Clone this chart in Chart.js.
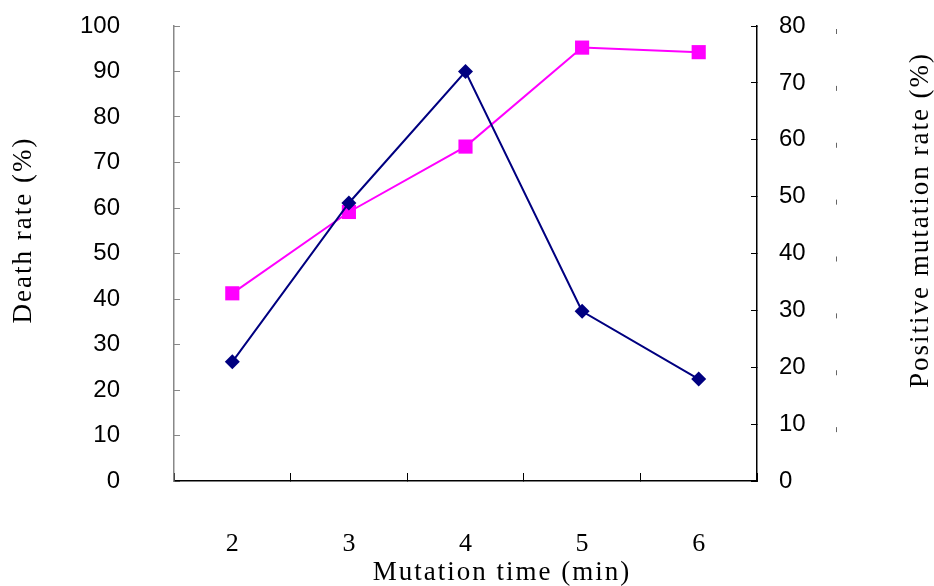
<!DOCTYPE html>
<html>
<head>
<meta charset="utf-8">
<script src="https://cdn.jsdelivr.net/npm/chart.js@4.4.1/dist/chart.umd.min.js"></script>
<style>
  body { margin: 0; background: #fff; }
  #wrap { width: 934px; height: 586px; }
</style>
</head>
<body>
<div id="wrap"><canvas id="myChart" width="934" height="586"></canvas></div>
<script>
// data
const times = ['2', '3', '4', '5', '6'];
const deathRate = [26.2, 61.1, 90, 37.3, 22.4];        // left axis
const positiveRate = [33.0, 47.3, 58.8, 76.2, 75.4];   // right axis
const leftTicks = [0, 10, 20, 30, 40, 50, 60, 70, 80, 90, 100];
const rightTicks = [0, 10, 20, 30, 40, 50, 60, 70, 80];

const serif = '"Liberation Serif", "Times New Roman", serif';
const sans = '"Liberation Sans", Arial, sans-serif';

// axis titles, drawn by hand so they can sit where the original has them
const titles = {
  id: 'titles',
  afterDraw(chart) {
    const ctx = chart.ctx;
    ctx.save();
    ctx.fillStyle = '#000';
    ctx.font = '27px ' + serif;
    ctx.textAlign = 'center';
    ctx.textBaseline = 'middle';
    ctx.letterSpacing = '2px';

    ctx.fillText('Mutation time (min)', 502, 573);

    ctx.save();
    ctx.translate(24, 230);
    ctx.rotate(-Math.PI / 2);
    ctx.fillText('Death rate (%)', 0, 0);
    ctx.restore();

    ctx.save();
    ctx.translate(921, 220);
    ctx.rotate(-Math.PI / 2);
    ctx.fillText('Positive mutation rate (%)', 0, 0);
    ctx.restore();

    // the little stray marks to the right of the right axis labels
    const y1 = chart.scales.y1;
    ctx.strokeStyle = '#666';
    ctx.lineWidth = 1;
    rightTicks.forEach(v => {
      if (v === 0) return;
      const py = y1.getPixelForValue(v);
      ctx.beginPath();
      ctx.moveTo(836.5, py + 3);
      ctx.lineTo(836.5, py + 8);
      ctx.stroke();
    });
    ctx.restore();
  }
};

function fixY(w) {
  return s => { s.width = w; s.paddingTop = 0; s.paddingBottom = 0; };
}

new Chart(document.getElementById('myChart'), {
  type: 'line',
  data: {
    labels: times,
    datasets: [{
      label: 'Death rate',
      data: deathRate,
      yAxisID: 'y',
      borderColor: '#000080',
      backgroundColor: '#000080',
      borderWidth: 2,
      pointStyle: 'rectRot',
      pointRadius: 7.5,
      pointBorderWidth: 0,
      tension: 0
    }, {
      label: 'Positive mutation rate',
      data: positiveRate,
      yAxisID: 'y1',
      borderColor: '#ff00ff',
      backgroundColor: '#ff00ff',
      borderWidth: 2,
      pointStyle: 'rect',
      pointRadius: 10,
      pointBorderWidth: 0,
      tension: 0
    }]
  },
  options: {
    responsive: false,
    animation: false,
    layout: { padding: { top: 26, left: 0, right: 0, bottom: 0 } },
    plugins: {
      legend: { display: false },
      tooltip: { enabled: false }
    },
    scales: {
      x: {
        offset: true,
        grid: {
          offset: true,
          drawOnChartArea: false,
          tickLength: -8,
          color: '#000'
        },
        border: { color: '#000', width: 1.5 },
        ticks: {
          color: '#000',
          padding: 56,
          font: { family: serif, size: 26 }
        },
        afterFit(s) { s.height = 105; s.paddingLeft = 0; s.paddingRight = 0; }
      },
      y: {
        position: 'left',
        min: 0,
        max: 100,
        afterBuildTicks(s) { s.ticks = leftTicks.map(v => ({ value: v })); },
        grid: {
          drawOnChartArea: false,
          tickLength: -6,
          color: '#888'
        },
        border: { color: '#888', width: 1.5 },
        ticks: {
          color: '#000',
          padding: 60,
          font: { family: sans, size: 24 }
        },
        afterFit: fixY(174)
      },
      y1: {
        position: 'right',
        min: 0,
        max: 80,
        afterBuildTicks(s) { s.ticks = rightTicks.map(v => ({ value: v })); },
        grid: {
          drawOnChartArea: false,
          tickLength: -6,
          color: '#000'
        },
        border: { color: '#000', width: 1.5 },
        ticks: {
          color: '#000',
          padding: 28,
          font: { family: sans, size: 24 }
        },
        afterFit: fixY(177)
      }
    }
  },
  plugins: [titles]
});
</script>
</body>
</html>
